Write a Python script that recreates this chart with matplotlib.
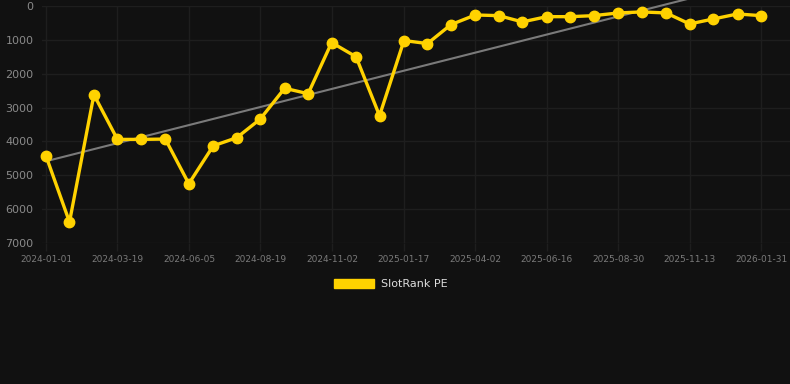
import matplotlib
matplotlib.use("Agg")
import matplotlib.pyplot as plt
import matplotlib.dates as mdates
from matplotlib.patches import Patch
import numpy as np
import datetime as dt

dates = ["2024-01-01", "2024-01-26", "2024-02-21", "2024-03-17", "2024-04-11",
         "2024-05-07", "2024-06-01", "2024-06-27", "2024-07-22", "2024-08-16",
         "2024-09-11", "2024-10-06", "2024-10-31", "2024-11-26", "2024-12-21",
         "2025-01-16", "2025-02-10", "2025-03-07", "2025-04-02", "2025-04-27",
         "2025-05-22", "2025-06-17", "2025-07-12", "2025-08-06", "2025-09-01",
         "2025-09-26", "2025-10-22", "2025-11-16", "2025-12-11", "2026-01-06",
         "2026-01-31"]
ranks = [4430, 6380, 2620, 3940, 3940, 3930, 5250, 4130, 3890, 3340,
         2430, 2590, 1080, 1500, 3240, 1020, 1110, 550, 265, 285,
         470, 315, 315, 285, 205, 175, 205, 530, 385, 235, 285]
tick_dates = ["2024-01-01", "2024-03-19", "2024-06-05", "2024-08-19", "2024-11-02",
              "2025-01-17", "2025-04-02", "2025-06-16", "2025-08-30", "2025-11-13",
              "2026-01-31"]
y_ticks = [0, 1000, 2000, 3000, 4000, 5000, 6000, 7000]
series_name = "SlotRank PE"

bg = "#111111"
gold = "#FFD200"

x = mdates.date2num([dt.datetime.strptime(d, "%Y-%m-%d") for d in dates])
xt_first = mdates.date2num(dt.datetime.strptime(tick_dates[0], "%Y-%m-%d"))
xt_last = mdates.date2num(dt.datetime.strptime(tick_dates[-1], "%Y-%m-%d"))
xt = np.linspace(xt_first, xt_last, len(tick_dates))

fig = plt.figure(figsize=(7.9, 3.84), dpi=100, facecolor=bg)
ax = fig.add_axes([42 / 790, 1 - 243 / 384, (790 - 42) / 790, (243 - 6) / 384])
ax.set_facecolor(bg)

# trend line
coef = np.polyfit(x, ranks, 1)
tx = np.array([x[0], x[-1]])
ax.plot(tx, np.polyval(coef, tx), color="#7a7a7a", lw=1.5, clip_on=False, zorder=2)

ax.plot(x, ranks, color=gold, lw=2.4, marker="o", markersize=7.5,
        markerfacecolor=gold, markeredgecolor=gold, zorder=3, clip_on=False)

px_per_day = (761 - 46) / (xt_last - xt_first)
ax.set_xlim(xt_first - 4 / px_per_day, xt_last + 29 / px_per_day)
ax.set_ylim(7000, 0)

ax.set_xticks(xt)
ax.set_xticklabels(tick_dates)
ax.set_yticks(y_ticks)
ax.set_yticklabels([str(v) for v in y_ticks])

ax.grid(True, color="#1e1e1e", lw=1)
ax.set_axisbelow(True)
for s in ax.spines.values():
    s.set_visible(False)
ax.tick_params(axis="x", colors="#1e1e1e", labelcolor="#7a7a7a", labelsize=6.5,
               length=6, width=1, pad=3)
ax.tick_params(axis="y", colors="#1e1e1e", labelcolor="#8a8a8a", labelsize=8,
               length=0, pad=6)

handle = Patch(facecolor=gold, edgecolor=gold)
leg = fig.legend([handle], [series_name], loc="center", bbox_to_anchor=(0.495, 1 - 284 / 384),
                 frameon=False, fontsize=8, handlelength=3.6, handleheight=0.95,
                 handletextpad=0.6, labelcolor="#dddddd")

fig.savefig("out.png", dpi=100, facecolor=bg)
